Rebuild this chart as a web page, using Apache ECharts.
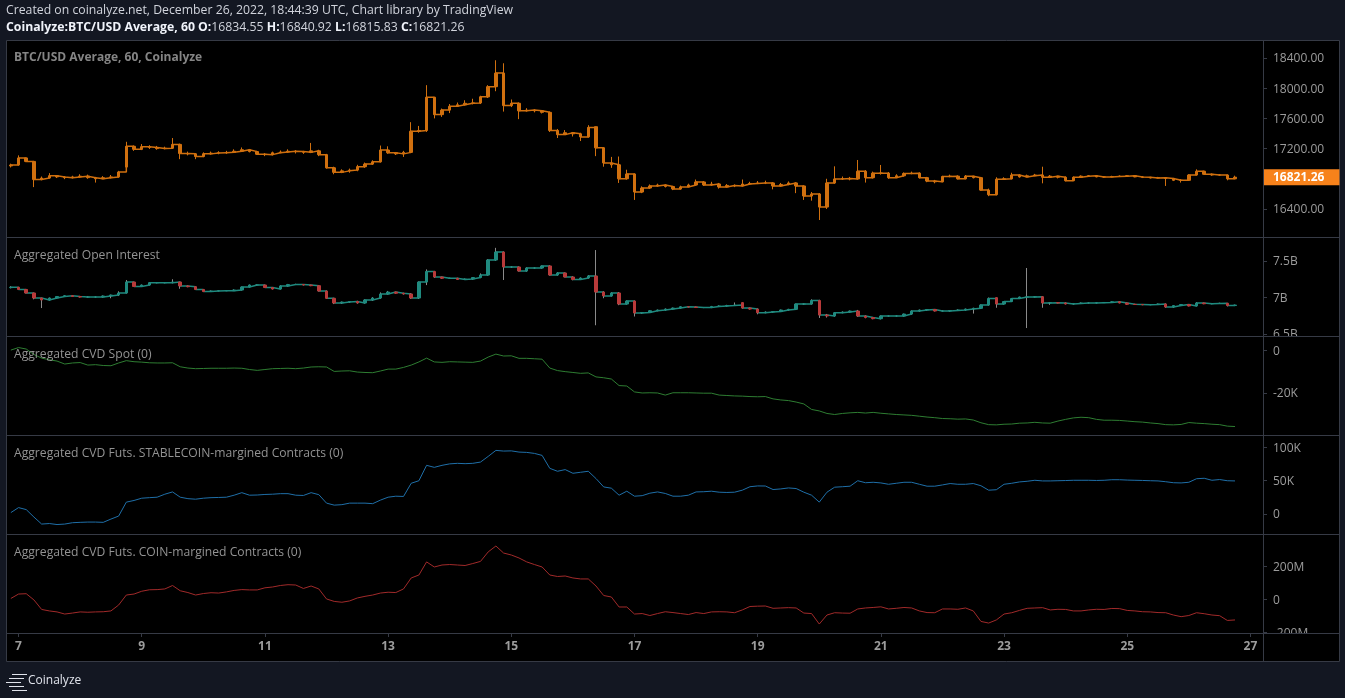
<!DOCTYPE html>
<html lang="en">
<head>
    <meta charset="UTF-8">
    <title>BTC/USD Average, 60, Coinalyze</title>
    <script src="https://cdn.jsdelivr.net/npm/echarts@6/dist/echarts.min.js"></script>
    <style>
        html, body { margin: 0; padding: 0; background: #131722; }
        #chart { width: 1345px; height: 698px; }
    </style>
</head>
<body>
    <div id="chart"></div>
    <script>
        // price candles, one every 3 hours
        const priceOpen = [
            16970,16983,17076,17030,16790,16810,16840,16825,16815,16825,
            16835,16815,16800,16815,16825,16955,17230,17190,17225,17215,
            17200,17205,17255,17135,17130,17095,17130,17140,17145,17150,
            17165,17185,17160,17125,17120,17145,17155,17165,17160,17150,
            17170,17120,16945,16885,16905,16915,16960,16995,17025,17180,
            17145,17130,17150,17430,17440,17880,17650,17710,17760,17780,
            17800,17805,17885,18020,18200,17770,17800,17700,17710,17700,
            17680,17440,17385,17410,17395,17355,17490,17210,17010,16985,
            16800,16864,16625,16678,16705,16718,16698,16665,16692,16718,
            16758,16718,16731,16692,16712,16705,16731,16738,16745,16745,
            16705,16725,16745,16705,16572,16599,16426,16745,16798,16804,
            16798,16900,16815,16875,16875,16815,16840,16870,16875,16815,
            16770,16760,16830,16835,16800,16835,16815,16650,16590,16795,
            16800,16850,16825,16840,16850,16820,16835,16820,16775,16820,
            16835,16840,16825,16825,16830,16835,16840,16825,16820,16810,
            16815,16805,16780,16780,16850,16900,16860,16850,16850,16800
        ];
        const priceClose = [
            16983,17076,17030,16790,16810,16840,16825,16815,16825,16835,
            16815,16800,16815,16825,16890,17230,17190,17225,17215,17200,
            17205,17255,17135,17130,17095,17130,17140,17145,17150,17165,
            17185,17160,17125,17120,17145,17155,17165,17160,17150,17170,
            17120,16945,16885,16905,16915,16960,16995,17025,17180,17145,
            17130,17150,17430,17440,17880,17650,17710,17760,17780,17800,
            17805,17885,18020,18200,17770,17800,17700,17710,17700,17680,
            17440,17385,17410,17395,17355,17480,17210,17010,16985,16800,
            16864,16625,16678,16705,16718,16698,16665,16692,16718,16758,
            16718,16731,16692,16712,16705,16731,16738,16745,16745,16705,
            16725,16745,16705,16572,16599,16426,16745,16798,16804,16798,
            16900,16815,16875,16875,16815,16840,16870,16875,16815,16770,
            16760,16830,16835,16800,16835,16815,16650,16590,16795,16800,
            16850,16825,16840,16850,16820,16835,16820,16775,16820,16835,
            16840,16825,16825,16830,16835,16840,16825,16820,16810,16815,
            16805,16780,16780,16850,16900,16860,16850,16850,16800,16821.26
        ];
        const priceHigh = [
            17000,17110,17050,17035,16830,16875,16845,16835,16840,16860,
            16855,16825,16835,16850,16905,17290,17240,17260,17245,17235,
            17225,17340,17265,17160,17140,17150,17160,17165,17170,17190,
            17215,17195,17170,17140,17160,17175,17190,17180,17170,17275,
            17185,17130,16960,16925,16935,16985,17015,17045,17240,17230,
            17155,17170,17550,17500,18040,17880,17730,17790,17810,17840,
            17860,17900,18040,18370,18330,17850,17810,17735,17720,17700,
            17690,17460,17445,17420,17410,17510,17490,17215,17090,17095,
            16920,16870,16700,16725,16735,16725,16705,16710,16735,16790,
            16770,16760,16745,16730,16725,16790,16760,16770,16775,16755,
            16745,16765,16755,16710,16625,16610,16800,16965,16830,16825,
            17049,16915,16895,16983,16890,16860,16885,16895,16885,16825,
            16785,16840,16855,16845,16850,16830,16820,16670,16820,16820,
            16880,16860,16855,16865,16960,16850,16840,16830,16830,16845,
            16850,16845,16835,16840,16845,16850,16845,16835,16825,16825,
            16820,16810,16795,16860,16925,16905,16870,16860,16855,16840.92
        ];
        const priceLow = [
            16950,16975,17020,16690,16780,16805,16810,16795,16805,16815,
            16800,16750,16795,16805,16815,16945,17170,17180,17195,17185,
            17190,17195,17060,17110,17060,17085,17120,17125,17130,17145,
            17155,17150,17115,17100,17110,17140,17145,17135,17130,17140,
            17100,16935,16860,16875,16880,16900,16945,16985,17015,17130,
            17115,17090,17140,17410,17420,17600,17620,17670,17760,17770,
            17785,17790,17870,17960,17690,17750,17590,17690,17680,17665,
            17420,17340,17385,17360,17300,17345,17100,16960,16945,16745,
            16790,16520,16610,16670,16695,16685,16650,16660,16690,16710,
            16705,16710,16670,16685,16690,16700,16720,16730,16730,16660,
            16695,16715,16610,16520,16510,16254,16400,16735,16785,16780,
            16790,16750,16805,16855,16800,16810,16830,16860,16805,16755,
            16740,16755,16820,16790,16795,16805,16640,16570,16580,16785,
            16795,16815,16820,16835,16740,16815,16805,16765,16770,16825,
            16830,16820,16815,16820,16825,16830,16820,16810,16805,16805,
            16705,16770,16750,16775,16845,16855,16840,16840,16780,16815.83
        ];

        // open interest candles, billions
        const oiOpen = [
            7.135,7.140,7.110,7.062,6.993,6.966,6.993,7.014,7.025,7.014,
            7.007,7.007,7.007,7.021,7.034,7.062,7.212,7.151,7.171,7.203,
            7.203,7.203,7.212,7.158,7.148,7.110,7.082,7.089,7.093,7.093,
            7.103,7.144,7.171,7.171,7.137,7.116,7.158,7.178,7.178,7.171,
            7.162,7.089,6.989,6.925,6.938,6.945,6.925,6.966,6.993,7.048,
            7.075,7.058,7.048,6.993,7.212,7.356,7.281,7.263,7.263,7.247,
            7.253,7.274,7.308,7.514,7.623,7.418,7.418,7.363,7.404,7.404,
            7.432,7.308,7.336,7.281,7.247,7.267,7.295,7.075,7.021,7.062,
            6.911,6.952,6.788,6.795,6.819,6.829,6.842,6.856,6.874,6.870,
            6.863,6.863,6.877,6.884,6.890,6.930,6.856,6.842,6.792,6.801,
            6.808,6.829,6.838,6.911,6.911,6.959,6.760,6.747,6.792,6.801,
            6.815,6.747,6.726,6.710,6.747,6.747,6.747,6.774,6.815,6.829,
            6.836,6.815,6.815,6.822,6.829,6.842,6.852,6.897,6.998,6.911,
            6.945,6.986,7.007,7.007,7.011,6.925,6.929,6.925,6.911,6.918,
            6.925,6.925,6.929,6.932,6.942,6.925,6.907,6.904,6.901,6.904,
            6.911,6.870,6.890,6.904,6.884,6.925,6.914,6.918,6.921,6.890
        ];
        const oiClose = [
            7.140,7.110,7.062,6.993,6.966,6.993,7.014,7.025,7.014,7.007,
            7.007,7.007,7.021,7.034,7.062,7.212,7.151,7.171,7.203,7.203,
            7.203,7.212,7.158,7.148,7.110,7.082,7.089,7.093,7.093,7.103,
            7.144,7.171,7.171,7.137,7.116,7.158,7.178,7.178,7.171,7.162,
            7.089,6.989,6.925,6.938,6.945,6.925,6.966,6.993,7.048,7.075,
            7.058,7.048,6.993,7.212,7.356,7.281,7.263,7.263,7.247,7.253,
            7.274,7.308,7.514,7.623,7.418,7.418,7.363,7.404,7.404,7.432,
            7.308,7.336,7.281,7.247,7.267,7.295,7.075,7.021,7.062,6.911,
            6.952,6.788,6.795,6.819,6.829,6.842,6.856,6.874,6.870,6.863,
            6.863,6.877,6.884,6.890,6.897,6.856,6.842,6.792,6.801,6.808,
            6.829,6.838,6.911,6.911,6.959,6.760,6.747,6.792,6.801,6.815,
            6.747,6.726,6.710,6.747,6.747,6.747,6.774,6.815,6.829,6.836,
            6.815,6.815,6.822,6.829,6.842,6.852,6.897,6.986,6.911,6.945,
            6.986,7.007,7.007,7.011,6.925,6.929,6.925,6.911,6.918,6.925,
            6.925,6.929,6.932,6.942,6.925,6.907,6.904,6.901,6.904,6.911,
            6.870,6.890,6.904,6.884,6.925,6.914,6.918,6.921,6.890,6.897
        ];
        const oiHigh = [
            7.155,7.145,7.115,7.065,6.995,7.000,7.018,7.032,7.030,7.020,
            7.018,7.016,7.028,7.040,7.085,7.240,7.215,7.178,7.210,7.210,
            7.210,7.250,7.215,7.165,7.152,7.112,7.096,7.100,7.098,7.112,
            7.150,7.178,7.180,7.175,7.140,7.165,7.186,7.188,7.182,7.175,
            7.168,7.095,6.995,6.945,6.952,6.955,6.975,7.005,7.070,7.090,
            7.080,7.065,7.060,7.220,7.385,7.365,7.285,7.270,7.270,7.260,
            7.280,7.330,7.525,7.680,7.630,7.430,7.425,7.412,7.412,7.440,
            7.440,7.345,7.340,7.290,7.275,7.305,7.650,7.085,7.070,7.075,
            6.960,6.958,6.800,6.825,6.835,6.850,6.862,6.880,6.880,6.875,
            6.870,6.885,6.892,6.900,6.932,6.935,6.862,6.848,6.810,6.815,
            6.835,6.845,6.918,6.920,6.975,6.970,6.775,6.800,6.810,6.822,
            6.830,6.755,6.732,6.755,6.755,6.755,6.780,6.822,6.835,6.842,
            6.842,6.825,6.828,6.838,6.848,6.860,6.905,7.000,7.002,6.950,
            6.992,7.012,7.404,7.020,7.018,6.938,6.938,6.932,6.925,6.932,
            6.932,6.936,6.938,6.948,6.946,6.930,6.912,6.910,6.910,6.918,
            6.918,6.895,6.910,6.910,6.935,6.930,6.925,6.928,6.926,6.902
        ];
        const oiLow = [
            7.125,7.105,7.055,6.975,6.856,6.960,6.988,7.010,7.008,7.000,
            6.998,6.998,7.000,6.990,7.020,7.055,7.145,7.145,7.165,7.195,
            7.195,7.195,7.120,7.140,7.105,7.078,7.078,7.086,7.088,7.090,
            7.098,7.138,7.165,7.130,7.110,7.110,7.150,7.172,7.165,7.155,
            7.082,6.980,6.910,6.915,6.930,6.915,6.918,6.955,6.985,7.040,
            7.050,7.040,6.980,6.980,7.170,7.270,7.255,7.255,7.240,7.240,
            7.245,7.265,7.300,7.505,7.240,7.405,7.355,7.355,7.395,7.398,
            7.300,7.300,7.275,7.235,7.240,7.260,6.620,6.990,7.015,6.895,
            6.905,6.740,6.780,6.790,6.812,6.822,6.838,6.850,6.865,6.858,
            6.855,6.855,6.870,6.878,6.885,6.850,6.835,6.770,6.785,6.795,
            6.802,6.822,6.832,6.900,6.905,6.720,6.725,6.740,6.785,6.795,
            6.735,6.715,6.702,6.702,6.738,6.738,6.740,6.768,6.808,6.822,
            6.808,6.808,6.808,6.815,6.822,6.780,6.845,6.890,6.860,6.905,
            6.940,6.980,6.582,7.002,6.860,6.900,6.920,6.905,6.905,6.915,
            6.918,6.920,6.925,6.928,6.920,6.900,6.898,6.895,6.896,6.902,
            6.860,6.862,6.885,6.878,6.880,6.908,6.908,6.912,6.878,6.885
        ];

        // CVD lines: spot in K, stablecoin futures in K, coin futures in M
        const cvdSpot = [
            0.3,1.5,0.8,-1.8,-3.5,-4.3,-4.9,-6.3,-5.8,-5.6,
            -6.8,-6.6,-7,-7.1,-5.8,-4.7,-5.2,-5.4,-5.7,-5.8,
            -5.8,-5.7,-7.6,-8.2,-8.5,-8.4,-8.3,-8.3,-8.3,-8.2,
            -8.3,-8.9,-9.3,-8.9,-8.5,-8.4,-8.3,-8.5,-8.2,-7.7,
            -7.6,-7.7,-9.8,-9.6,-9.5,-10.1,-10.3,-10.4,-9.6,-8.7,
            -8.7,-7.9,-6.8,-5.3,-3.5,-5.3,-5.5,-5.2,-5.3,-5.4,
            -5.5,-4.9,-3,-1.6,-2.5,-2.4,-3.6,-3.6,-3.8,-4,
            -8.2,-9.4,-9.9,-10.3,-10.7,-10.5,-12.4,-12.8,-13.4,-16.5,
            -16.7,-19.5,-20,-19.9,-20,-21,-19.9,-19.9,-19.9,-20,
            -20.1,-20.1,-21,-21.2,-21.4,-21.5,-21.7,-21.8,-21.7,-22.8,
            -23.3,-23.6,-24.3,-25.2,-27.8,-28.5,-29.7,-30.2,-29.7,-29.4,
            -29.2,-29.5,-29.2,-29.6,-29.9,-30.2,-30.4,-30.6,-31,-31.4,
            -31.7,-32.1,-32.2,-32.4,-32.3,-32.8,-34.1,-35,-35.1,-34.8,
            -34.7,-34.3,-34.2,-33.9,-34.2,-34.3,-33.3,-32.5,-31.8,-31.5,
            -31.7,-32.5,-32.9,-32.9,-33,-33.3,-33.6,-33.8,-34.2,-34.5,
            -35,-35.1,-34.9,-34,-34.3,-34.5,-34.8,-35,-35.7,-35.9
        ];
        const cvdStable = [
            1.8,9.3,6.3,-4.9,-15.4,-14.6,-16.1,-15.4,-13.4,-12.8,
            -12.4,-12.4,-12.8,-7.9,-3.4,17.5,20,23.4,24.2,24.9,
            29.4,32.8,24.9,22.7,21.9,23.4,24.2,24.5,24.9,27.9,
            31.7,27.9,28.2,29,29.4,30.2,30.2,27.9,27.5,31.7,
            28.7,16,13,13.7,16,16,16,15.2,20.5,24.9,
            26.4,26,45.8,49.6,72.7,69.7,72.7,74.9,75.7,75.2,
            75.7,77.6,86.1,95.1,94.1,94.4,92.6,92.1,90.6,87.6,
            68.2,63.8,66.3,60.8,62.3,63.8,52.9,40.3,38.4,27.9,
            33.9,26.4,27.2,30.9,32.8,30.5,26.4,26.4,27.9,32.8,
            33.1,33.9,32.4,32,32.4,35.4,40.6,41.8,41.7,36.4,
            37.3,38.8,37.9,32.4,27.9,17.5,32.4,39.9,40.6,41.4,
            49.6,46.6,47.3,46.3,44.3,45.8,47.3,47.3,44.3,41.4,
            41.4,43.3,45.4,44.3,44.3,45.4,42.1,35.4,36.1,44.3,
            45.8,47.8,48.8,50.3,49.3,49.3,49.6,49.9,50.3,50.3,
            50.3,50,50.3,51.1,51.1,50.6,50.3,50,49.6,49.3,
            48.1,46.6,46.3,47.3,52.6,53.3,50.3,51.4,49.6,49.3
        ];
        const cvdCoin = [
            5,32,34,-4,-62,-71,-77,-90,-84,-77,
            -79,-77,-76,-71,-35,26,32,49,58,59,
            63,84,52,41,26,35,40,38,45,54,
            59,57,57,70,75,84,89,87,66,81,
            63,2,-13,-18,-10,8,18,26,38,43,
            41,63,130,148,228,197,209,212,209,206,
            218,231,289,325,282,270,252,228,212,197,
            148,139,142,130,124,124,81,23,14,-47,
            -47,-90,-87,-99,-87,-76,-81,-87,-93,-81,
            -87,-77,-76,-77,-82,-65,-44,-42,-41,-55,
            -53,-51,-53,-84,-87,-151,-96,-82,-84,-85,
            -59,-53,-50,-46,-59,-55,-50,-53,-71,-81,
            -82,-59,-59,-61,-53,-71,-135,-145,-126,-90,
            -82,-68,-55,-53,-51,-65,-61,-62,-71,-71,
            -65,-61,-62,-56,-57,-68,-71,-76,-77,-81,
            -82,-96,-106,-99,-82,-88,-96,-100,-129,-126
        ];

        // tick labels
        const dayLabels = [7, 9, 11, 13, 15, 17, 19, 21, 23, 25, 27];
        const priceTicks = [18400, 18000, 17600, 17200, 16400];
        const lastPrice = 16821.26;
        const oiTicks = [7.5, 7, 6.5];
        const spotTicks = [0, -20];
        const stableTicks = [100, 50, 0];
        const coinTicks = [200, 0, -200];

        // hours since Dec 7 00:00 (candles sit on a 3 hour step ending at Dec 26 18:00)
        const hours = priceClose.map((_, i) => -3 + i * 3);
        const dayHours = dayLabels.map(d => (d - 7) * 24);

        const FONT = '"Open Sans", "Noto Sans", sans-serif';
        const AXIS_LINE = '#363a45';
        const LABEL = '#9c9c9c';
        const PRICE_COLOR = '#d0700f';
        const UP_COLOR = '#1f8a7f';
        const DOWN_COLOR = '#b83a3a';

        const panels = [
            {top: 41, height: 196, min: 16029, max: 18625},
            {top: 238, height: 98, min: 6.473, max: 7.815},
            {top: 337, height: 98, min: -39.9, max: 6.5},
            {top: 436, height: 98, min: -30.3, max: 116.7},
            {top: 535, height: 98, min: -205.6, max: 392}
        ];

        const panelTitles = [
            'BTC/USD Average, 60, Coinalyze',
            'Aggregated Open Interest',
            'Aggregated CVD Spot (0)',
            'Aggregated CVD Futs. STABLECOIN-margined Contracts (0)',
            'Aggregated CVD Futs. COIN-margined Contracts (0)'
        ];

        function yAxisFor(i, ticks, format) {
            return {
                type: 'value',
                gridIndex: i,
                position: 'right',
                min: panels[i].min,
                max: panels[i].max,
                splitLine: {show: false},
                axisLine: {show: true, onZero: false, lineStyle: {color: AXIS_LINE}},
                axisTick: {show: true, length: 4, customValues: ticks, lineStyle: {color: AXIS_LINE}},
                axisLabel: {
                    customValues: ticks,
                    margin: 0,
                    formatter: format,
                    rich: {
                        n: {color: LABEL, fontFamily: FONT, fontSize: 12, padding: [2, 0, 0, 10]},
                        last: {
                            color: '#ffffff',
                            fontFamily: FONT,
                            fontSize: 12,
                            fontWeight: 'bold',
                            backgroundColor: '#f7821b',
                            padding: [2, 15, 2, 10]
                        }
                    }
                }
            };
        }

        const xAxes = panels.map((p, i) => ({
            type: 'value',
            gridIndex: i,
            min: -4.5,
            max: 484.9,
            splitLine: {show: false},
            axisLine: {show: i === 4, onZero: false, lineStyle: {color: AXIS_LINE}},
            axisTick: {show: i === 4, length: 4, customValues: dayHours, lineStyle: {color: AXIS_LINE}},
            axisLabel: {
                show: i === 4,
                customValues: dayHours,
                color: LABEL,
                fontFamily: FONT,
                fontSize: 12,
                fontWeight: 'bold',
                margin: 8,
                formatter: v => String(v / 24 + 7)
            }
        }));

        const yAxes = [
            yAxisFor(0, priceTicks.concat(lastPrice), v => v === lastPrice
                ? '{last|' + v.toFixed(2) + '}' : '{n|' + v.toFixed(2) + '}'),
            yAxisFor(1, oiTicks, v => '{n|' + v + 'B}'),
            yAxisFor(2, spotTicks, v => '{n|' + (v === 0 ? '0' : v + 'K') + '}'),
            yAxisFor(3, stableTicks, v => '{n|' + (v === 0 ? '0' : v + 'K') + '}'),
            yAxisFor(4, coinTicks, v => '{n|' + (v === 0 ? '0' : v + 'M') + '}')
        ];

        // candlestick rows are [x, open, close, low, high]
        const priceRows = hours.map((h, i) => [h, priceOpen[i], priceClose[i], priceLow[i], priceHigh[i]]);
        const oiWickRows = hours.map((h, i) => [h, oiOpen[i], oiClose[i], oiLow[i], oiHigh[i]]);
        const oiBodyRows = hours.map((h, i) => [h, oiOpen[i], oiClose[i],
            Math.min(oiOpen[i], oiClose[i]), Math.max(oiOpen[i], oiClose[i])]);

        function lineSeries(i, values, color) {
            return {
                type: 'line',
                xAxisIndex: i,
                yAxisIndex: i,
                data: hours.map((h, k) => [h, values[k]]),
                showSymbol: false,
                silent: true,
                lineStyle: {color: color, width: 1}
            };
        }

        // stair of closes under the candles, so the thin bars read as one run
        function stairSeries(i, values, color) {
            return {
                type: 'line',
                xAxisIndex: i,
                yAxisIndex: i,
                step: 'end',
                data: hours.map((h, k) => [h, values[k]]),
                showSymbol: false,
                silent: true,
                z: 1,
                lineStyle: {color: color, width: 1.5}
            };
        }

        const chart = echarts.init(document.getElementById('chart'));
        chart.setOption({
            animation: false,
            backgroundColor: '#131722',
            title: panelTitles.map((t, i) => ({
                text: t,
                left: 14,
                top: panels[i].top + (i === 0 ? 11 : 12),
                padding: 0,
                z: 20,
                textStyle: {
                    color: i === 0 ? '#858585' : '#939393',
                    fontFamily: FONT,
                    fontSize: i === 0 ? 12 : 12.15,
                    fontWeight: i === 0 ? 'bold' : 'normal'
                }
            })).concat([{
                text: 'Created on coinalyze.net, December 26, 2022, 18:44:39 UTC, Chart library by TradingView',
                left: 6,
                top: 5,
                padding: 0,
                textStyle: {color: '#d1d4dc', fontFamily: FONT, fontSize: 12.25, fontWeight: 'normal'}
            }, {
                text: '{b|Coinalyze:BTC/USD Average, 60 O:}{n|16834.55 }{b|H:}{n|16840.92 }{b|L:}{n|16815.83 }{b|C:}{n|16821.26}',
                left: 6,
                top: 22,
                padding: 0,
                textStyle: {
                    rich: {
                        b: {color: '#f0f3fa', fontFamily: FONT, fontSize: 12.25, fontWeight: 'bold'},
                        n: {color: '#d1d4dc', fontFamily: FONT, fontSize: 12.25, fontWeight: 'normal'}
                    }
                }
            }, {
                text: 'Coinalyze',
                left: 28,
                top: 675,
                padding: 0,
                textStyle: {color: '#e0e3eb', fontFamily: FONT, fontSize: 12, fontWeight: 'normal'}
            }]),
            grid: panels.map(p => ({left: 7, right: 82, top: p.top, height: p.height})),
            xAxis: xAxes,
            yAxis: yAxes,
            series: [
                stairSeries(0, priceClose, PRICE_COLOR),
                {
                    type: 'candlestick',
                    xAxisIndex: 0,
                    yAxisIndex: 0,
                    barWidth: 3,
                    data: priceRows,
                    silent: true,
                    itemStyle: {color: PRICE_COLOR, color0: PRICE_COLOR, borderColor: PRICE_COLOR, borderColor0: PRICE_COLOR, borderWidth: 1}
                },
                stairSeries(1, oiClose, UP_COLOR),
                {
                    type: 'candlestick',
                    xAxisIndex: 1,
                    yAxisIndex: 1,
                    barWidth: 1,
                    data: oiWickRows,
                    silent: true,
                    z: 2,
                    itemStyle: {color: '#8a8a8a', color0: '#8a8a8a', borderColor: '#8a8a8a', borderColor0: '#8a8a8a', borderWidth: 1}
                },
                {
                    type: 'candlestick',
                    xAxisIndex: 1,
                    yAxisIndex: 1,
                    barWidth: 3,
                    data: oiBodyRows,
                    silent: true,
                    z: 3,
                    itemStyle: {color: UP_COLOR, color0: DOWN_COLOR, borderColor: UP_COLOR, borderColor0: DOWN_COLOR, borderWidth: 1}
                },
                lineSeries(2, cvdSpot, '#2e7d32'),
                lineSeries(3, cvdStable, '#1f6fa8'),
                lineSeries(4, cvdCoin, '#a12a2a')
            ],
            graphic: [
                // black pane behind everything, with its frame
                {type: 'rect', z: -1, silent: true, shape: {x: 6.5, y: 40.5, width: 1333, height: 621},
                    style: {fill: '#000000', stroke: AXIS_LINE}},
                // labels are cut at the pane edge in the original
                {type: 'rect', z: 30, silent: true, shape: {x: 1264, y: 337, width: 74, height: 6}, style: {fill: '#000000'}},
                {type: 'rect', z: 30, silent: true, shape: {x: 1264, y: 634, width: 74, height: 7}, style: {fill: '#000000'}},
                // pane separators and the axis line down to the frame
                {type: 'line', z: 31, silent: true, shape: {x1: 7, y1: 237.5, x2: 1339, y2: 237.5}, style: {stroke: AXIS_LINE}},
                {type: 'line', z: 31, silent: true, shape: {x1: 7, y1: 336.5, x2: 1339, y2: 336.5}, style: {stroke: AXIS_LINE}},
                {type: 'line', z: 31, silent: true, shape: {x1: 7, y1: 435.5, x2: 1339, y2: 435.5}, style: {stroke: AXIS_LINE}},
                {type: 'line', z: 31, silent: true, shape: {x1: 7, y1: 534.5, x2: 1339, y2: 534.5}, style: {stroke: AXIS_LINE}},
                {type: 'line', z: 31, silent: true, shape: {x1: 7, y1: 633.5, x2: 1339, y2: 633.5}, style: {stroke: AXIS_LINE}},
                {type: 'line', z: 31, silent: true, shape: {x1: 1263.5, y1: 41, x2: 1263.5, y2: 661}, style: {stroke: AXIS_LINE}},
                // Coinalyze logo lines
                {type: 'line', silent: true, shape: {x1: 12, y1: 674.5, x2: 27, y2: 674.5}, style: {stroke: '#e0e3eb'}},
                {type: 'line', silent: true, shape: {x1: 9, y1: 678.5, x2: 24, y2: 678.5}, style: {stroke: '#e0e3eb'}},
                {type: 'line', silent: true, shape: {x1: 6, y1: 682.5, x2: 21, y2: 682.5}, style: {stroke: '#e0e3eb'}},
                {type: 'line', silent: true, shape: {x1: 9, y1: 686.5, x2: 24, y2: 686.5}, style: {stroke: '#e0e3eb'}},
                {type: 'line', silent: true, shape: {x1: 12, y1: 690.5, x2: 27, y2: 690.5}, style: {stroke: '#e0e3eb'}}
            ]
        });
    </script>
</body>
</html>
